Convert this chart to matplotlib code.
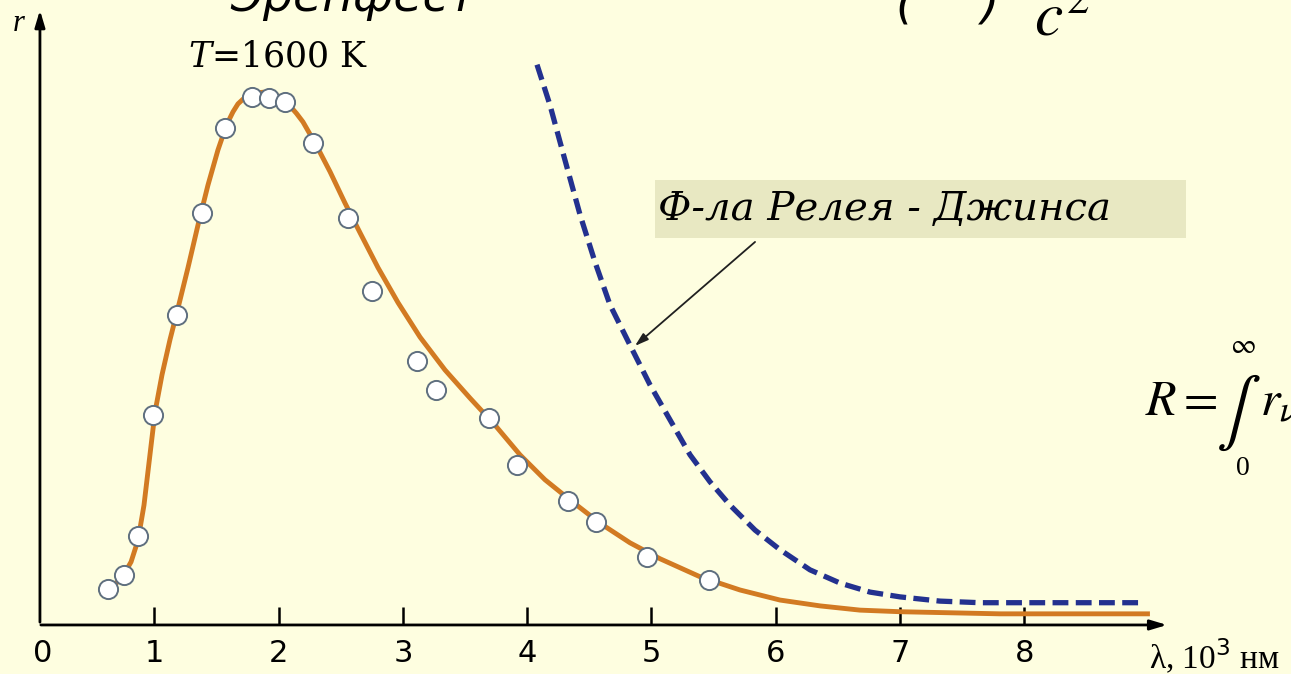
import matplotlib
matplotlib.use("Agg")
import matplotlib.pyplot as plt
from matplotlib.patches import Rectangle

# experimental points, T = 1600 K  (lambda in 10^3 nm, r in arb. units)
lam_pts = [0.63, 0.76, 0.87, 0.99, 1.18, 1.38, 1.57, 1.79, 1.92, 2.05, 2.28,
           2.56, 2.75, 3.11, 3.27, 3.69, 3.92, 4.33, 4.55, 4.96, 5.46]
r_pts = [0.068, 0.094, 0.168, 0.396, 0.585, 0.777, 0.938, 0.996, 0.994, 0.987, 0.909,
         0.768, 0.630, 0.498, 0.443, 0.391, 0.302, 0.234, 0.194, 0.128, 0.085]

# smooth curve
lam_curve = [0.587, 0.660, 0.740, 0.813, 0.869, 0.917, 0.965, 1.006, 1.062, 1.126,
             1.191, 1.271, 1.352, 1.432, 1.512, 1.553, 1.593, 1.633, 1.673, 1.714,
             1.754, 1.794, 1.834, 1.875, 1.915, 1.955, 1.995, 2.044, 2.092, 2.144,
             2.196, 2.301, 2.414, 2.534, 2.655, 2.800, 2.961, 3.138, 3.339, 3.540,
             3.741, 3.942, 4.143, 4.344, 4.586, 4.827, 5.068, 5.390, 5.712, 6.034,
             6.356, 6.677, 6.999, 7.401, 7.804, 8.286, 9.010]
r_curve = [0.064, 0.072, 0.089, 0.119, 0.160, 0.226, 0.321, 0.402, 0.472, 0.538,
           0.598, 0.674, 0.755, 0.830, 0.896, 0.924, 0.949, 0.968, 0.983, 0.992,
           0.998, 1.002, 1.004, 1.005, 1.004, 1.002, 0.998, 0.990, 0.979, 0.965,
           0.949, 0.906, 0.855, 0.796, 0.740, 0.674, 0.608, 0.543, 0.481, 0.428,
           0.377, 0.321, 0.274, 0.236, 0.192, 0.155, 0.125, 0.091, 0.066, 0.047,
           0.036, 0.028, 0.025, 0.023, 0.021, 0.021, 0.021]

# Rayleigh-Jeans curve
lam_rj = [4.079, 4.183, 4.304, 4.425, 4.545, 4.666, 4.827, 4.988, 5.149, 5.310,
          5.471, 5.632, 5.833, 6.034, 6.275, 6.517, 6.758, 6.999, 7.321, 7.643,
          7.965, 8.447, 8.970]
r_rj = [1.057, 0.981, 0.877, 0.774, 0.685, 0.604, 0.528, 0.453, 0.387, 0.321,
        0.270, 0.226, 0.179, 0.142, 0.104, 0.079, 0.062, 0.053, 0.045, 0.042,
        0.042, 0.042, 0.042]

xticks = [1, 2, 3, 4, 5, 6, 7, 8]
xtick_labels = ["1", "2", "3", "4", "5", "6", "7", "8"]

bg = "#fefee0"
fig = plt.figure(figsize=(12.91, 6.74), dpi=100, facecolor=bg)
ax = fig.add_axes([0, 0, 1, 1])
ax.set_facecolor(bg)
ax.set_xlim(-0.2414, 10.145)
ax.set_ylim(-0.0925, 1.179)
ax.axis("off")

narrow = ["Liberation Sans Narrow", "DejaVu Sans"]
serif = ["Liberation Serif", "DejaVu Serif"]
dserif = ["DejaVu Serif"]

# axes with arrows
ax.annotate("", xy=(0.08, 1.165), xytext=(0.08, 0.0),
            arrowprops=dict(arrowstyle="-|>,head_length=1.0,head_width=0.3", color="black", lw=2))
ax.annotate("", xy=(9.17, 0.0), xytext=(0.065, 0.0),
            arrowprops=dict(arrowstyle="-|>,head_length=1.0,head_width=0.3", color="black", lw=2))
ax.vlines(xticks, 0, 0.034, color="black", lw=1.8)
for x, lab in zip(xticks, xtick_labels):
    ax.text(x, -0.026, lab, ha="center", va="top", fontsize=22, family=narrow)
ax.text(0.1, -0.026, "0", ha="center", va="top", fontsize=22, family=narrow)
ax.text(9.0, -0.022, "λ, 10$^3$ нм", ha="left", va="top", fontsize=24, family=serif)
ax.text(-0.09, 1.135, "r", ha="center", va="center", fontsize=22, style="italic",
        family=serif)

# curves
ax.plot(lam_curve, r_curve, color="#d27a22", lw=3.5, solid_capstyle="butt", zorder=3)
ax.plot(lam_rj, r_rj, color="#23318f", lw=3.8, dashes=(3.0, 1.4), zorder=3)
ax.scatter(lam_pts, r_pts, s=190, facecolor="white", edgecolor="#5f6f7f", lw=1.4, zorder=4)

ax.text(1.27, 1.04, "$T$=1600 K", ha="left", va="bottom", fontsize=25, family=dserif,
        math_fontfamily="dejavuserif")

# label box + arrow
ax.add_patch(Rectangle((5.03, 0.730), 4.27, 0.109, facecolor="#e8e8c2", edgecolor="none", zorder=2))
ax.text(5.05, 0.783, "Ф-ла Релея - Джинса", ha="left", va="center", fontsize=29,
        style="italic", family=dserif, zorder=3)
ax.annotate("", xy=(4.85, 0.523), xytext=(5.85, 0.726),
            arrowprops=dict(arrowstyle="-|>,head_length=0.8,head_width=0.25",
                            color="#202020", lw=1.3), zorder=5)

# cut-off slide text at the top
fig.text(230 / 1291, 1 - 11 / 674, "Эренфест", ha="left", va="baseline", fontsize=34,
         style="italic", family=["DejaVu Sans"])
fig.text(905 / 1291, 1 - 18 / 674, "(", ha="center", va="baseline", fontsize=34,
         style="italic", family=["DejaVu Sans"])
fig.text(990 / 1291, 1 - 18 / 674, ")", ha="center", va="baseline", fontsize=34,
         style="italic", family=["DejaVu Sans"])
fig.text(1034 / 1291, 1 - 36 / 674, "$c^2$", ha="left", va="baseline", fontsize=46,
         math_fontfamily="stix")

# formula on the right
fig.text(1145 / 1291, 1 - 415 / 674, "$R=$", ha="left", va="baseline", fontsize=36,
         math_fontfamily="stix")
fig.text(1238 / 1291, 1 - 430 / 674, r"$\int$", ha="center", va="baseline", fontsize=48,
         math_fontfamily="stix")
fig.text(1243 / 1291, 1 - 353 / 674, r"$\infty$", ha="center", va="baseline", fontsize=20,
         math_fontfamily="stix")
fig.text(1243 / 1291, 1 - 475 / 674, "0", ha="center", va="baseline", fontsize=20, family=serif)
fig.text(1260 / 1291, 1 - 415 / 674, r"$r_\nu$", ha="left", va="baseline", fontsize=36,
         math_fontfamily="stix")

fig.savefig("out.png", dpi=100, facecolor=bg)
